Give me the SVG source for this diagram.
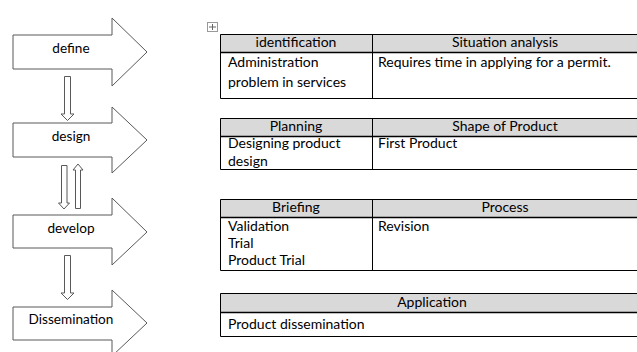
<svg xmlns="http://www.w3.org/2000/svg" width="637" height="352" viewBox="0 0 637 352">
<style>
.blk{fill:#fff;stroke:#595959;stroke-width:1}
.small{fill:#fff;stroke:#595959;stroke-width:1}
.lbl{font-family:Lato,"Liberation Sans",sans-serif;font-size:13.6px;fill:#000;text-anchor:middle}
.t{font-family:Lato,"Liberation Sans",sans-serif;font-size:14px;fill:#000}
.tc{text-anchor:middle}
.hdr{fill:#d9d9d9;stroke:none}
.ln{stroke:#000;stroke-width:1;fill:none}
.hl{stroke:#000;stroke-width:1.3;fill:none}
</style>
<rect width="637" height="352" fill="#fff"/>
<g id="define">
<polygon class="blk" points="13,35 112,35 112,18 147,52 112,86 112,69 13,69"/>
<text class="lbl" x="71" y="53">define</text>
</g>
<g id="design">
<polygon class="blk" points="13,123 112,123 112,107 147,140 112,173 112,157 13,157"/>
<text class="lbl" x="71" y="141">design</text>
</g>
<g id="develop">
<polygon class="blk" points="13,215 112,215 112,198 147,232 112,265 112,248 13,248"/>
<text class="lbl" x="71" y="233">develop</text>
</g>
<g id="dissemination">
<polygon class="blk" points="13,307 112,307 112,290 147,323 112,356 112,340 13,340"/>
<text class="lbl" x="71" y="324">Dissemination</text>
</g>
<g id="connectors">
<polygon class="small" points="64.5,76.5 70.5,76.5 70.5,114 74,114 67.5,120.5 61,114 64.5,114"/>
<polygon class="small" points="61.5,165.5 67,165.5 67,203 69.5,203 64,209 58.5,203 61.5,203"/>
<polygon class="small" points="75.5,208.5 80.5,208.5 80.5,170 83,170 78,164 73,170 75.5,170"/>
<polygon class="small" points="64.5,255.5 70.5,255.5 70.5,293 74,293 67.5,299.5 61,293 64.5,293"/>
</g>
<g id="move-handle">
<rect x="207.5" y="22.5" width="10" height="9" fill="#fff" stroke="#999" stroke-width="1"/>
<path d="M212.5,24 V30 M209,27 H216" stroke="#666" stroke-width="1" fill="none"/>
</g>
<g id="table-define">
<rect class="hdr" x="220" y="34" width="420" height="18"/>
<path class="ln" d="M220.5,34.5 H640 M220.5,34.5 V98.5 M372.5,34.5 V98.5 M220.5,98.5 H640"/>
<path class="hl" d="M220.5,52.5 H640"/>
<text class="t tc" x="296" y="47">identification</text>
<text class="t tc" x="505" y="47">Situation analysis</text>
<text class="t" x="228" y="67">Administration</text>
<text class="t" x="228" y="87">problem in services</text>
<text class="t" x="378" y="67">Requires time in applying for a permit.</text>
</g>
<g id="table-design">
<rect class="hdr" x="220" y="118" width="420" height="18"/>
<path class="ln" d="M220.5,118.5 H640 M220.5,118.5 V169.5 M372.5,118.5 V169.5 M220.5,169.5 H640"/>
<path class="hl" d="M220.5,136.5 H640"/>
<text class="t tc" x="296" y="131">Planning</text>
<text class="t tc" x="505" y="131">Shape of Product</text>
<text class="t" x="228" y="148">Designing product</text>
<text class="t" x="228" y="166">design</text>
<text class="t" x="378" y="148">First Product</text>
</g>
<g id="table-develop">
<rect class="hdr" x="220" y="199" width="420" height="18"/>
<path class="ln" d="M220.5,199.5 H640 M220.5,199.5 V270.5 M372.5,199.5 V270.5 M220.5,270.5 H640"/>
<path class="hl" d="M220.5,217.5 H640"/>
<text class="t tc" x="296" y="212">Briefing</text>
<text class="t tc" x="505" y="212">Process</text>
<text class="t" x="228" y="231">Validation</text>
<text class="t" x="228" y="248">Trial</text>
<text class="t" x="228" y="265">Product Trial</text>
<text class="t" x="378" y="231">Revision</text>
</g>
<g id="table-dissemination">
<rect class="hdr" x="220" y="293" width="420" height="19"/>
<path class="ln" d="M220.5,293.5 H640 M220.5,293.5 V336.5 M220.5,336.5 H640"/>
<path class="hl" d="M220.5,312.5 H640"/>
<text class="t tc" x="432" y="307">Application</text>
<text class="t" x="228" y="329">Product dissemination</text>
</g>
</svg>
